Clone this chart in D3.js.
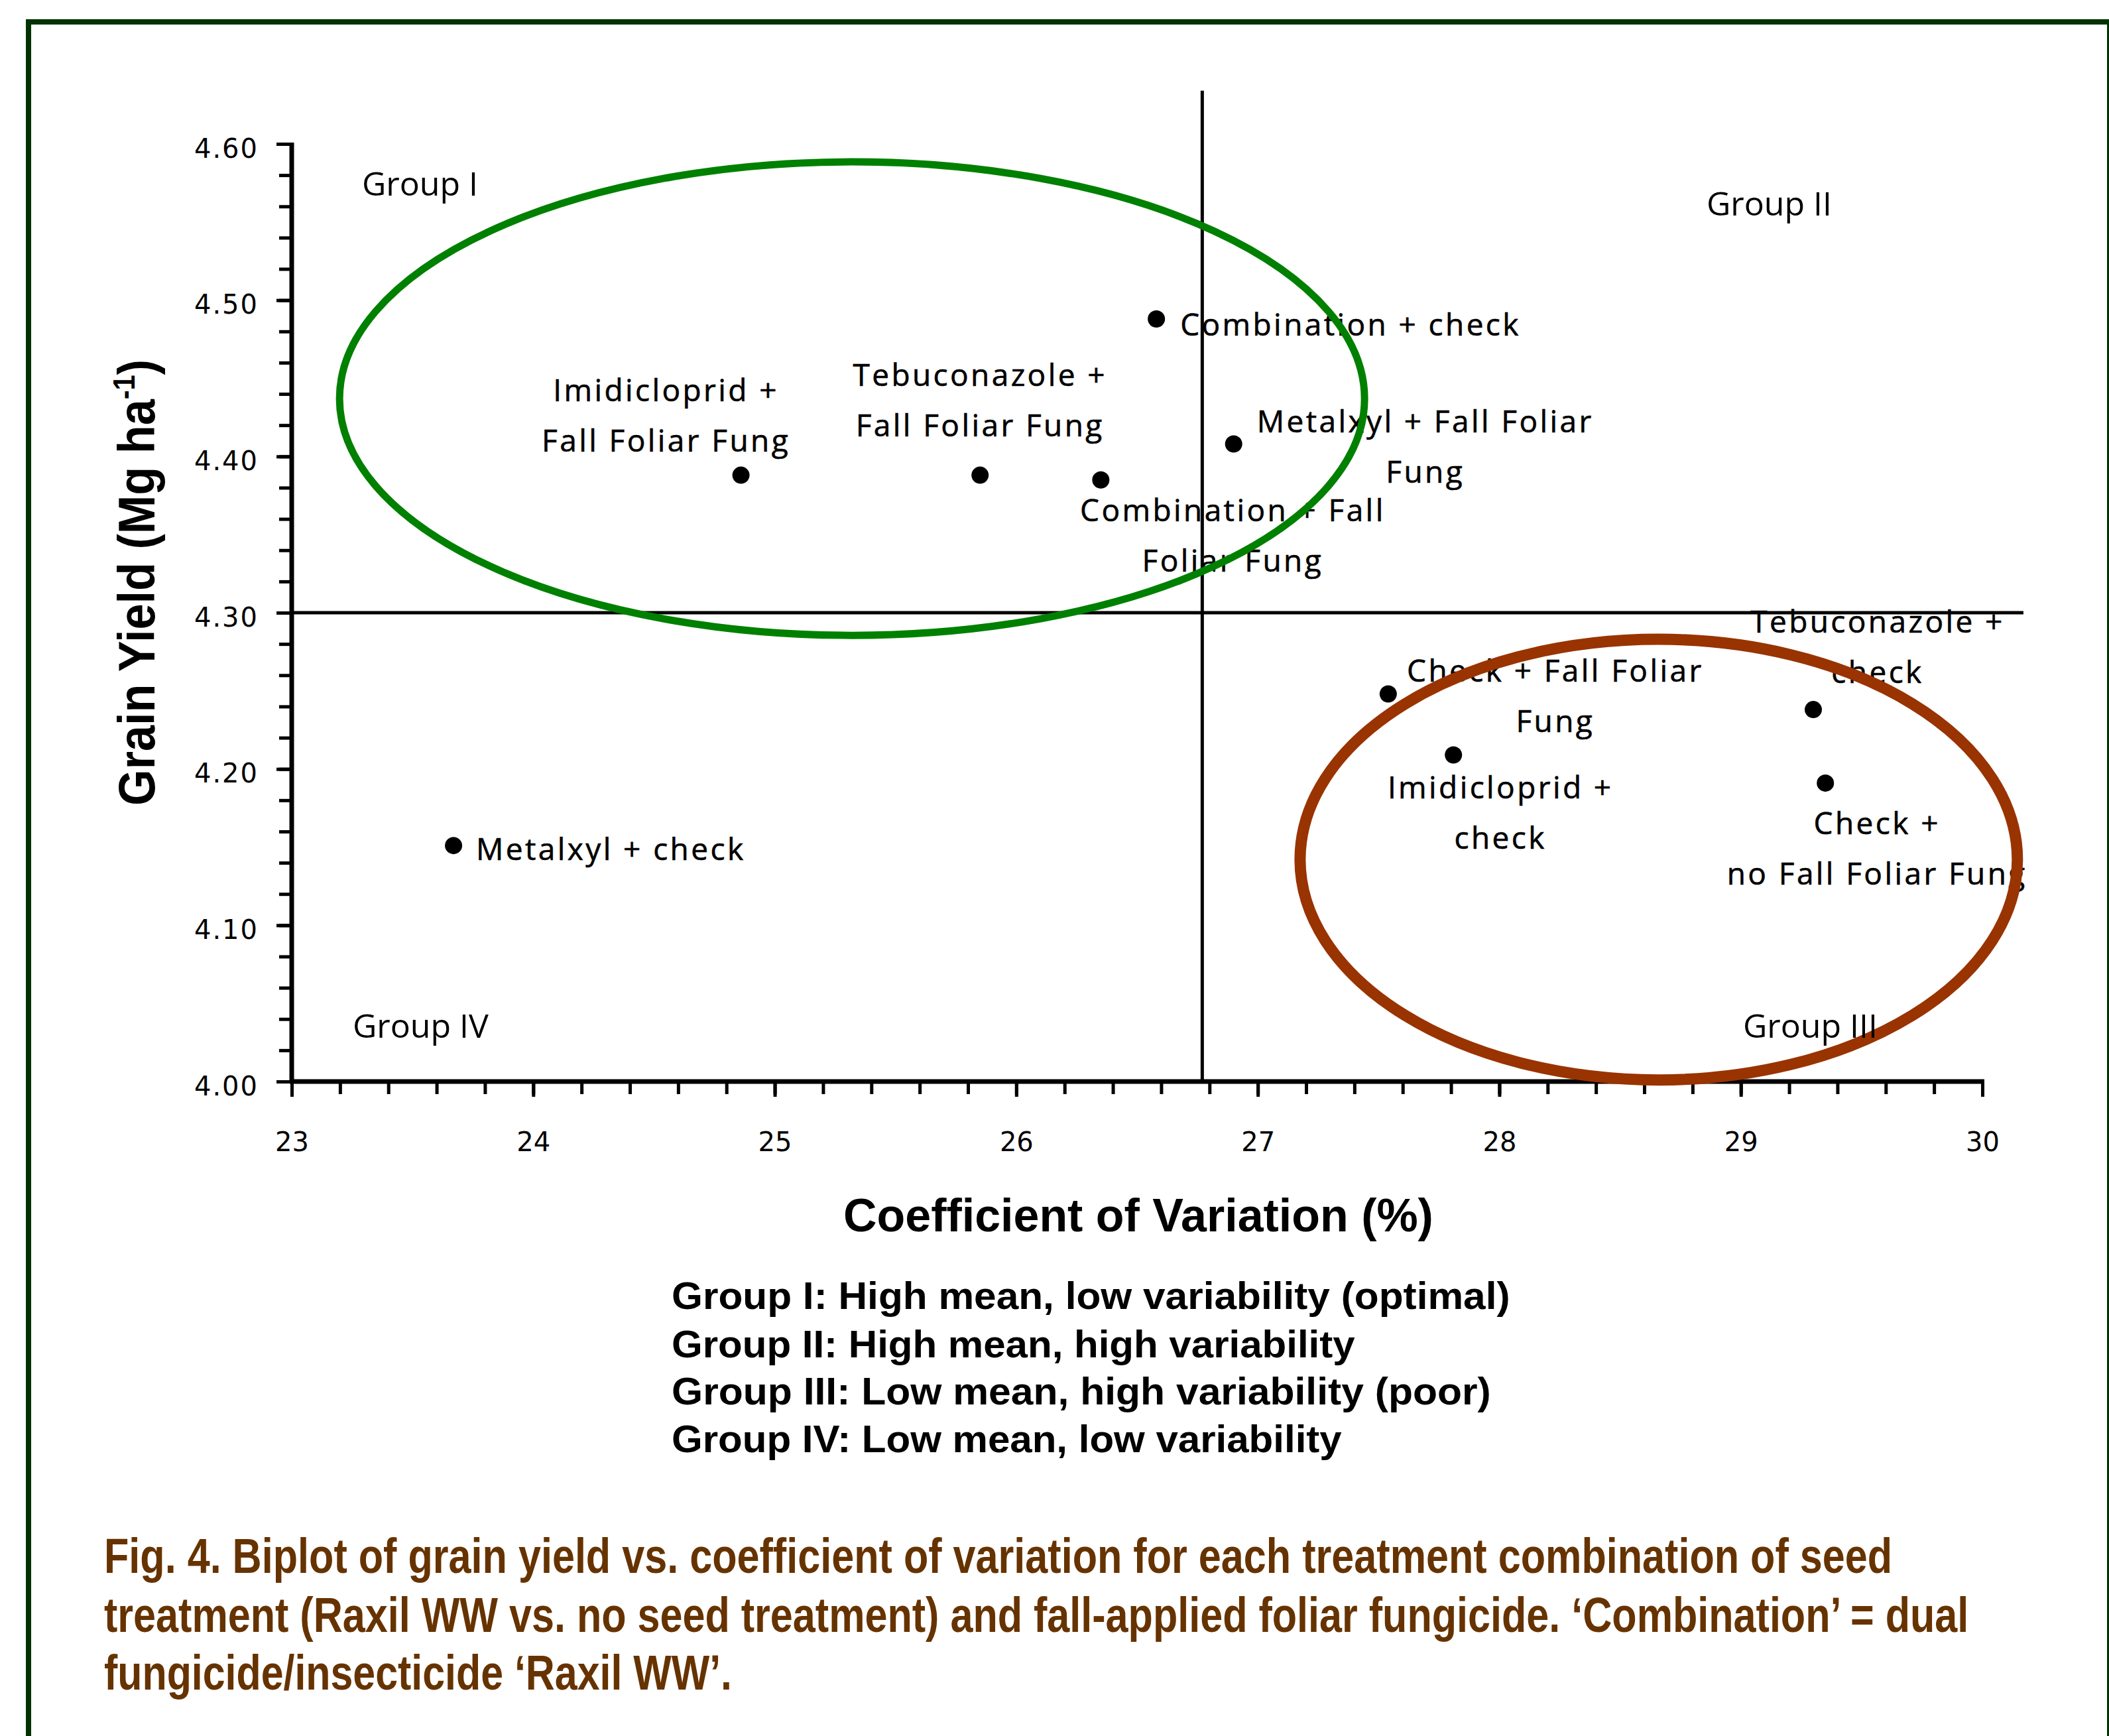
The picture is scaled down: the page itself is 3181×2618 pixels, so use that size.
<!DOCTYPE html>
<html>
<head>
<meta charset="utf-8">
<script src="https://cdn.jsdelivr.net/npm/d3@7"></script>
<style>
  body { margin: 0; background: #fff; }
  .tick text { font-family: "DejaVu Sans", sans-serif; font-size: 40px; fill: #000; }
</style>
</head>
<body>
<div id="container"></div>
<script>
// values
var treatments = [
  "Combination + check",
  "Metalxyl + Fall Foliar Fung",
  "Tebuconazole + Fall Foliar Fung",
  "Combination + Fall Foliar Fung",
  "Imidicloprid + Fall Foliar Fung",
  "Metalxyl + check",
  "Check + Fall Foliar Fung",
  "Imidicloprid + check",
  "Tebuconazole + check",
  "Check + no Fall Foliar Fung"
];
var cv = [26.58, 26.90, 25.85, 26.35, 24.86, 23.67, 27.54, 27.81, 29.30, 29.35];
var grainYield = [4.488, 4.408, 4.388, 4.385, 4.388, 4.151, 4.248, 4.209, 4.238, 4.191];

var xTicks = [23, 24, 25, 26, 27, 28, 29, 30];
var yTicks = [4.0, 4.1, 4.2, 4.3, 4.4, 4.5, 4.6];

// grand means used as quadrant dividers
var meanCV = 26.77;
var meanYield = 4.30;

var groupNames = ["Group I", "Group II", "Group III", "Group IV"];
var groupNotes = [
  "Group I: High mean, low variability (optimal)",
  "Group II: High mean, high variability",
  "Group III: Low mean, high variability (poor)",
  "Group IV: Low mean, low variability"
];
var captionLines = [
  "Fig. 4. Biplot of grain yield vs. coefficient of variation for each treatment combination of seed",
  "treatment (Raxil WW vs. no seed treatment) and fall-applied foliar fungicide. \u2018Combination\u2019 = dual",
  "fungicide/insecticide \u2018Raxil WW\u2019."
];

// circled clusters (data units)
var ringCV = [25.32, 28.66];
var ringYield = [4.437, 4.142];
var ringHalfCV = [2.122, 1.485];
var ringHalfYield = [0.1515, 0.141];

// ---- layout ----
var margin = { top: 217, left: 440 },
  width = 2550,
  height = 1414;

var svg = d3
  .select("#container")
  .append("svg")
  .attr("width", 3181)
  .attr("height", 2618)
  .style("display", "block");

svg.append("rect").attr("width", 3181).attr("height", 2618).attr("fill", "#fff");

// dark green frame
svg
  .append("rect")
  .attr("x", 43)
  .attr("y", 33)
  .attr("width", 3139)
  .attr("height", 2700)
  .attr("fill", "none")
  .attr("stroke", "#003300")
  .attr("stroke-width", 8);

var g = svg
  .append("g")
  .attr("transform", "translate(" + margin.left + "," + margin.top + ")");

var x = d3.scaleLinear().domain([23, 30]).range([0, width]);
var y = d3.scaleLinear().domain([4.0, 4.6]).range([height, 0]);

// squeeze/stretch a text node along its own direction to a target length
function fitText(sel, tx, ty, target, rot) {
  var w = sel.node().getComputedTextLength();
  var k = target / w;
  sel.attr(
    "transform",
    "translate(" + tx + "," + ty + ")" + (rot ? " rotate(" + rot + ")" : "") + " scale(" + k + ",1)"
  );
}

// ---- axes ----
g.append("g")
  .attr("transform", "translate(0," + height + ")")
  .call(d3.axisBottom(x).tickValues(d3.range(0, 36).map(function (i) { return 23 + i * 0.2; })).tickSize(19).tickSizeOuter(0).tickFormat(""))
  .call(function (a) { a.select(".domain").remove(); });

g.append("g")
  .attr("transform", "translate(0," + height + ")")
  .call(d3.axisBottom(x).tickValues(xTicks).tickSize(23).tickSizeOuter(0).tickPadding(54).tickFormat(d3.format("d")))
  .call(function (a) { a.select(".domain").remove(); });

g.append("g")
  .call(d3.axisLeft(y).tickValues(d3.range(0, 31).map(function (i) { return 4 + i * 0.02; })).tickSize(19).tickSizeOuter(0).tickFormat(""))
  .call(function (a) { a.select(".domain").remove(); });

g.append("g")
  .call(d3.axisLeft(y).tickValues(yTicks).tickSize(23).tickSizeOuter(0).tickPadding(27).tickFormat(d3.format(".2f")))
  .call(function (a) { a.select(".domain").remove(); })
  .selectAll("text")
  .attr("dy", "0.5em")
  .attr("letter-spacing", 2);

g.selectAll(".tick line").attr("stroke", "#000").attr("stroke-width", 5);

// axis lines
g.append("line")
  .attr("x1", x(23) - 3).attr("x2", x(30) + 3)
  .attr("y1", y(4.0)).attr("y2", y(4.0))
  .attr("stroke", "#000").attr("stroke-width", 7);
g.append("line")
  .attr("x1", x(23)).attr("x2", x(23))
  .attr("y1", y(4.6) - 2).attr("y2", y(4.0))
  .attr("stroke", "#000").attr("stroke-width", 7);

// axis titles
var xt = svg.append("text")
  .attr("font-family", "'Liberation Sans', Arial, sans-serif")
  .attr("font-weight", "bold")
  .attr("font-size", 70)
  .attr("fill", "#000")
  .text("Coefficient of Variation (%)");
fitText(xt, 1272, 1857, 890);

var yt = svg.append("text")
  .attr("font-family", "'Liberation Sans', Arial, sans-serif")
  .attr("font-weight", "bold")
  .attr("font-size", 78)
  .attr("fill", "#000");
yt.append("tspan").text("Grain Yield (Mg ha");
yt.append("tspan").attr("font-size", 46).attr("dy", -30).text("-1");
yt.append("tspan").attr("dy", 30).text(")");
fitText(yt, 233, 1215, 673, -90);

// ---- group labels ----
var groupPos = [[546, 295], [2574, 325], [2629, 1565], [532, 1565]];
svg.selectAll(".group")
  .data(groupNames)
  .enter()
  .append("text")
  .attr("class", "group")
  .attr("x", function (d, i) { return groupPos[i][0]; })
  .attr("y", function (d, i) { return groupPos[i][1]; })
  .attr("font-family", "'Open Sans', sans-serif")
  .attr("font-size", 50)
  .attr("fill", "#000")
  .text(function (d) { return d; });

// ---- point labels ----
// label offset from its dot, and after how many words the label wraps
var labelLayout = [
  { dx: 36, dy: 25, anchor: "start", wrap: 0 },
  { dx: 289, dy: -17, anchor: "middle", wrap: 4 },
  { dx: 0, dy: -135, anchor: "middle", wrap: 2 },
  { dx: 199, dy: 62, anchor: "middle", wrap: 3 },
  { dx: -113, dy: -112, anchor: "middle", wrap: 2 },
  { dx: 34, dy: 22, anchor: "start", wrap: 0 },
  { dx: 252, dy: -19, anchor: "middle", wrap: 4 },
  { dx: 71, dy: 66, anchor: "middle", wrap: 2 },
  { dx: 97, dy: -116, anchor: "middle", wrap: 2 },
  { dx: 78, dy: 77, anchor: "middle", wrap: 2 }
];

svg.append("clipPath").attr("id", "plotclip")
  .append("rect").attr("x", -margin.left).attr("y", -margin.top).attr("width", 3056).attr("height", 2000);

var labels = g.append("g").attr("clip-path", "url(#plotclip)");

treatments.forEach(function (name, i) {
  var lay = labelLayout[i];
  var words = name.split(" ");
  var lines = lay.wrap ? [words.slice(0, lay.wrap).join(" "), words.slice(lay.wrap).join(" ")] : [name];
  var t = labels.append("text")
    .attr("text-anchor", lay.anchor)
    .attr("font-family", "'Open Sans', sans-serif")
    .attr("font-size", 46)
    .attr("letter-spacing", 3.4)
    .attr("fill", "#000")
    .attr("stroke", "#000")
    .attr("stroke-width", 0.6);
  lines.forEach(function (ln, j) {
    t.append("tspan")
      .attr("x", x(cv[i]) + lay.dx)
      .attr("y", y(grainYield[i]) + lay.dy + j * 76)
      .text(ln);
  });
});

// dots
g.selectAll(".dot")
  .data(cv)
  .enter()
  .append("circle")
  .attr("class", "dot")
  .attr("cx", function (d) { return x(d); })
  .attr("cy", function (d, i) { return y(grainYield[i]); })
  .attr("r", 13)
  .attr("fill", "#000");

// quadrant dividers
g.append("line")
  .attr("x1", x(23)).attr("x2", x(30.17))
  .attr("y1", y(meanYield)).attr("y2", y(meanYield))
  .attr("stroke", "#000").attr("stroke-width", 5);
g.append("line")
  .attr("x1", x(meanCV)).attr("x2", x(meanCV))
  .attr("y1", y(4.634)).attr("y2", y(4.0))
  .attr("stroke", "#000").attr("stroke-width", 5);

// rings around the groups
var ringColors = ["#008000", "#993300"];
var ringWidths = [11, 17];
g.selectAll(".ring")
  .data(ringCV)
  .enter()
  .append("ellipse")
  .attr("class", "ring")
  .attr("cx", function (d) { return x(d); })
  .attr("cy", function (d, i) { return y(ringYield[i]); })
  .attr("rx", function (d, i) { return x(23 + ringHalfCV[i]) - x(23); })
  .attr("ry", function (d, i) { return y(4) - y(4 + ringHalfYield[i]); })
  .attr("fill", "none")
  .attr("stroke", function (d, i) { return ringColors[i]; })
  .attr("stroke-width", function (d, i) { return ringWidths[i]; });

// ---- group notes ----
var noteBase = [1974, 2047, 2118, 2190];
var noteWidth = [1265, 1031, 1236, 1011];
groupNotes.forEach(function (s, i) {
  var t = svg.append("text")
    .attr("font-family", "'Liberation Sans', Arial, sans-serif")
    .attr("font-weight", "bold")
    .attr("font-size", 58)
    .attr("fill", "#000")
    .text(s);
  fitText(t, 1013, noteBase[i], noteWidth[i]);
});

// ---- caption ----
var capBase = [2372, 2461, 2548];
var capWidth = [2698, 2813, 947];
captionLines.forEach(function (s, i) {
  var t = svg.append("text")
    .attr("font-family", "'Liberation Sans', Arial, sans-serif")
    .attr("font-weight", "bold")
    .attr("font-size", 75)
    .attr("fill", "#663300")
    .text(s);
  fitText(t, 157, capBase[i], capWidth[i]);
});
</script>
</body>
</html>
